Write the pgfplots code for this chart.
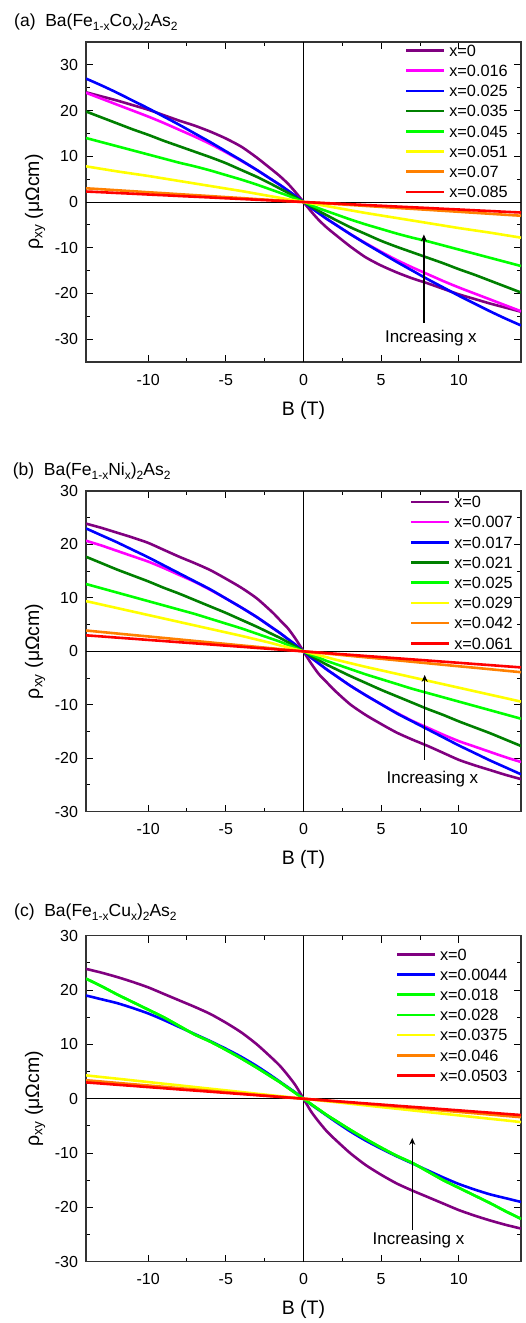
\documentclass[border=0pt]{standalone}
\usepackage{fontspec}
\setmainfont{Liberation Sans}
\usepackage{pgfplots}
\usepackage{pgfplotstable}
\pgfplotsset{compat=1.18}
\usetikzlibrary{arrows.meta}
\definecolor{cpurple}{RGB}{128,0,128}
\definecolor{cmag}{RGB}{255,0,255}
\definecolor{cblue}{RGB}{0,0,255}
\definecolor{cdgreen}{RGB}{0,128,0}
\definecolor{cgreen}{RGB}{0,255,0}
\definecolor{cyellow}{RGB}{255,255,0}
\definecolor{corange}{RGB}{255,128,0}
\definecolor{cred}{RGB}{255,0,0}
\newcommand{\sbs}[1]{\raisebox{-0.28em}{\fontsize{12}{12}\selectfont #1}}
\tikzset{cv/.style={line width=2.6pt, smooth, tension=0.4}}

\pgfplotstableread{
B c0 c016 c025 c035 c045 c051 c07 c085
-14 24.0 23.9 27.0 19.8 14.0 7.8 3.0 2.3
-13 23.1 22.6 25.5 18.5 13.1 7.25 2.79 2.14
-12 22.2 21.3 23.9 17.2 12.2 6.7 2.57 1.97
-11 21.2 20.0 22.2 15.9 11.3 6.2 2.36 1.81
-10 20.2 18.7 20.5 14.7 10.4 5.7 2.14 1.64
-9 19.0 17.3 18.7 13.4 9.5 5.15 1.93 1.48
-8 17.8 15.8 16.9 12.2 8.6 4.6 1.71 1.31
-7 16.7 14.3 15.0 11.0 7.8 4.05 1.5 1.15
-6 15.4 12.7 13.1 9.8 6.9 3.5 1.29 0.99
-5 13.9 10.9 11.1 8.5 5.9 2.95 1.07 0.82
-4 12.1 9.0 9.1 7.0 4.9 2.4 0.86 0.66
-3 9.7 7.0 7.0 5.5 3.8 1.8 0.64 0.49
-2 7.0 4.8 4.8 3.8 2.6 1.2 0.43 0.33
-1.5 5.6 3.7 3.7 2.9 2.0 0.9 0.32 0.25
-1 4.0 2.5 2.5 2.0 1.4 0.6 0.21 0.16
-0.5 2.1 1.3 1.3 1.0 0.7 0.3 0.11 0.08
0 0 0 0 0 0 0 0 0
0.5 -2.1 -1.3 -1.3 -1.0 -0.7 -0.3 -0.11 -0.08
1 -4.0 -2.5 -2.5 -2.0 -1.4 -0.6 -0.21 -0.16
1.5 -5.6 -3.7 -3.7 -2.9 -2.0 -0.9 -0.32 -0.25
2 -7.0 -4.8 -4.8 -3.8 -2.6 -1.2 -0.43 -0.33
3 -9.7 -7.0 -7.0 -5.5 -3.8 -1.8 -0.64 -0.49
4 -12.1 -9.0 -9.1 -7.0 -4.9 -2.4 -0.86 -0.66
5 -13.9 -10.9 -11.1 -8.5 -5.9 -2.95 -1.07 -0.82
6 -15.4 -12.7 -13.1 -9.8 -6.9 -3.5 -1.29 -0.99
7 -16.7 -14.3 -15.0 -11.0 -7.8 -4.05 -1.5 -1.15
8 -17.8 -15.8 -16.9 -12.2 -8.6 -4.6 -1.71 -1.31
9 -19.0 -17.3 -18.7 -13.4 -9.5 -5.15 -1.93 -1.48
10 -20.2 -18.7 -20.5 -14.7 -10.4 -5.7 -2.14 -1.64
11 -21.2 -20.0 -22.2 -15.9 -11.3 -6.2 -2.36 -1.81
12 -22.2 -21.3 -23.9 -17.2 -12.2 -6.7 -2.57 -1.97
13 -23.1 -22.6 -25.5 -18.5 -13.1 -7.25 -2.79 -2.14
14 -24.0 -23.9 -27.0 -19.8 -14.0 -7.8 -3.0 -2.3
}\tabA

\pgfplotstableread{
B n0 n007 n017 n021 n025 n029 n042 n061
-14 23.9 20.7 23.0 17.7 12.6 9.4 3.9 3.0
-13 23.1 19.8 21.7 16.5 11.8 8.75 3.62 2.79
-12 22.2 18.8 20.4 15.3 11.0 8.1 3.34 2.57
-11 21.3 17.8 19.0 14.2 10.2 7.45 3.06 2.36
-10 20.3 16.8 17.6 13.1 9.4 6.8 2.79 2.14
-9 19.0 15.6 16.1 11.9 8.6 6.15 2.51 1.93
-8 17.7 14.3 14.6 10.8 7.8 5.5 2.23 1.71
-7 16.5 13.0 13.1 9.6 7.0 4.85 1.95 1.5
-6 15.2 11.5 11.6 8.4 6.1 4.2 1.67 1.29
-5 13.6 9.9 9.9 7.2 5.2 3.55 1.39 1.07
-4 11.9 8.2 8.2 5.9 4.3 2.9 1.11 0.86
-3 9.9 6.4 6.4 4.6 3.3 2.2 0.84 0.64
-2 7.3 4.4 4.4 3.2 2.3 1.5 0.56 0.43
-1.5 5.8 3.4 3.4 2.5 1.8 1.1 0.42 0.32
-1 4.3 2.3 2.3 1.7 1.2 0.75 0.28 0.21
-0.5 2.3 1.2 1.2 0.9 0.6 0.37 0.14 0.11
0 0 0 0 0 0 0 0 0
0.5 -2.3 -1.2 -1.2 -0.9 -0.6 -0.37 -0.14 -0.11
1 -4.3 -2.3 -2.3 -1.7 -1.2 -0.75 -0.28 -0.21
1.5 -5.8 -3.4 -3.4 -2.5 -1.8 -1.1 -0.42 -0.32
2 -7.3 -4.4 -4.4 -3.2 -2.3 -1.5 -0.56 -0.43
3 -9.9 -6.4 -6.4 -4.6 -3.3 -2.2 -0.84 -0.64
4 -11.9 -8.2 -8.2 -5.9 -4.3 -2.9 -1.11 -0.86
5 -13.6 -9.9 -9.9 -7.2 -5.2 -3.55 -1.39 -1.07
6 -15.2 -11.5 -11.6 -8.4 -6.1 -4.2 -1.67 -1.29
7 -16.5 -13.0 -13.1 -9.6 -7.0 -4.85 -1.95 -1.5
8 -17.7 -14.3 -14.6 -10.8 -7.8 -5.5 -2.23 -1.71
9 -19.0 -15.6 -16.1 -11.9 -8.6 -6.15 -2.51 -1.93
10 -20.3 -16.8 -17.6 -13.1 -9.4 -6.8 -2.79 -2.14
11 -21.3 -17.8 -19.0 -14.2 -10.2 -7.45 -3.06 -2.36
12 -22.2 -18.8 -20.4 -15.3 -11.0 -8.1 -3.34 -2.57
13 -23.1 -19.8 -21.7 -16.5 -11.8 -8.75 -3.62 -2.79
14 -23.9 -20.7 -23.0 -17.7 -12.6 -9.4 -3.9 -3.0
}\tabB

\pgfplotstableread{
B u0 u0044 u018 u028 u0375 u046 u0503
-14 23.9 19.0 22.1 22.1 4.3 3.4 3.0
-13 23.2 18.3 20.7 20.7 3.99 3.16 2.79
-12 22.4 17.6 19.2 19.2 3.69 2.91 2.57
-11 21.5 16.7 17.8 17.8 3.38 2.67 2.36
-10 20.5 15.7 16.4 16.4 3.07 2.43 2.14
-9 19.3 14.5 15.0 15.0 2.76 2.19 1.93
-8 18.1 13.2 13.4 13.4 2.46 1.94 1.71
-7 16.9 11.9 11.8 11.8 2.15 1.70 1.5
-6 15.6 10.6 10.5 10.5 1.84 1.46 1.29
-5 14.0 9.2 9.0 9.0 1.54 1.21 1.07
-4 12.2 7.7 7.4 7.4 1.23 0.97 0.86
-3 10.0 6.0 5.7 5.7 0.92 0.73 0.64
-2 7.4 4.1 3.9 3.9 0.61 0.49 0.43
-1.5 6.0 3.1 3.0 3.0 0.46 0.36 0.32
-1 4.3 2.1 2.0 2.0 0.31 0.24 0.21
-0.5 2.4 1.1 1.0 1.0 0.15 0.12 0.11
0 0 0 0 0 0 0 0
0.5 -2.4 -1.1 -1.0 -1.0 -0.15 -0.12 -0.11
1 -4.3 -2.1 -2.0 -2.0 -0.31 -0.24 -0.21
1.5 -6.0 -3.1 -3.0 -3.0 -0.46 -0.36 -0.32
2 -7.4 -4.1 -3.9 -3.9 -0.61 -0.49 -0.43
3 -10.0 -6.0 -5.7 -5.7 -0.92 -0.73 -0.64
4 -12.2 -7.7 -7.4 -7.4 -1.23 -0.97 -0.86
5 -14.0 -9.2 -9.0 -9.0 -1.54 -1.21 -1.07
6 -15.6 -10.6 -10.5 -10.5 -1.84 -1.46 -1.29
7 -16.9 -11.9 -11.8 -11.8 -2.15 -1.70 -1.5
8 -18.1 -13.2 -13.4 -13.4 -2.46 -1.94 -1.71
9 -19.3 -14.5 -15.0 -15.0 -2.76 -2.19 -1.93
10 -20.5 -15.7 -16.4 -16.4 -3.07 -2.43 -2.14
11 -21.5 -16.7 -17.8 -17.8 -3.38 -2.67 -2.36
12 -22.4 -17.6 -19.2 -19.2 -3.69 -2.91 -2.57
13 -23.2 -18.3 -20.7 -20.7 -3.99 -3.16 -2.79
14 -23.9 -19.0 -22.1 -22.1 -4.3 -3.4 -3.0
}\tabC

\pgfplotsset{
 myax/.style={
  scale only axis, width=435pt,
  xmin=-14, xmax=14,
  xtick={-10,-5,0,5,10}, minor x tick num=1,
  minor y tick num=1,
  tick align=inside,
  major tick length=7pt, minor tick length=4pt,
  every tick/.style={black, line width=1pt},
  axis line style={line width=1.5pt, black!80},
  /pgf/number format/assume math mode=true,
  ticklabel style={font=\fontsize{16}{19}\selectfont},
  xticklabel style={yshift=-8.5pt},
  yticklabel style={xshift=-4.5pt},
  xlabel={B (T)},
  ylabel={ρ\textsubscript{xy} (μΩcm)},
  label style={font=\fontsize{19.5}{23}\selectfont},
  ylabel style={at={(axis description cs:-0.117,0.5)}, anchor=center},
  legend cell align=left,
  legend image code/.code={\draw[##1, line width=2.6pt] (0pt,1.8pt) -- (38pt,1.8pt);},
  legend style={draw=none, fill=none, inner sep=0pt, row sep=4.2pt, column sep=3.5pt, anchor=north west, font=\fontsize{16.3}{19}\selectfont, nodes={inner sep=0pt, text height=12pt, text depth=4pt}},
 }
}

\begin{document}
\begin{tikzpicture}
\useasboundingbox (0pt,0pt) rectangle (526pt,-1323pt);

\node[anchor=base west, font=\fontsize{17.5}{20}\selectfont, inner sep=0pt] at (14pt,-26pt) {(a)~~Ba(Fe\sbs{1-x}Co\sbs{x})\sbs{2}As\sbs{2}};
\node[anchor=base west, font=\fontsize{17.5}{20}\selectfont, inner sep=0pt] at (12.7pt,-475pt) {(b)~~Ba(Fe\sbs{1-x}Ni\sbs{x})\sbs{2}As\sbs{2}};
\node[anchor=base west, font=\fontsize{17.5}{20}\selectfont, inner sep=0pt] at (14pt,-916pt) {(c)~~Ba(Fe\sbs{1-x}Cu\sbs{x})\sbs{2}As\sbs{2}};

% (a)
\begin{axis}[myax, at={(86pt,-362pt)}, anchor=south west, height=320pt,
  ymin=-35, ymax=35, ytick={-30,-20,-10,0,10,20,30},
  xlabel style={at={(axis description cs:0.5,-0.15)}, anchor=center},
  legend style={at={(0.7333,0.9933)}}]
\draw[black, line width=1pt] (axis cs:-14,0) -- (axis cs:14,0);
\draw[black, line width=1.3pt] (axis cs:0,-35) -- (axis cs:0,35);
\addplot[cpurple, cv] table[x=B, y=c0] {\tabA};
\addlegendentry{x=0}
\addplot[cmag, cv] table[x=B, y=c016] {\tabA};
\addlegendentry{x=0.016}
\addplot[cblue, cv] table[x=B, y=c025] {\tabA};
\addlegendentry{x=0.025}
\addplot[cdgreen, cv] table[x=B, y=c035] {\tabA};
\addlegendentry{x=0.035}
\addplot[cgreen, cv] table[x=B, y=c045] {\tabA};
\addlegendentry{x=0.045}
\addplot[cyellow, cv] table[x=B, y=c051] {\tabA};
\addlegendentry{x=0.051}
\addplot[corange, cv] table[x=B, y=c07] {\tabA};
\addlegendentry{x=0.07}
\addplot[cred, cv] table[x=B, y=c085] {\tabA};
\addlegendentry{x=0.085}
\draw[-{Stealth[length=7pt,width=6pt]}, line width=1.3pt] (axis cs:7.75,-26.4) -- (axis cs:7.75,-7.1);
\node[font=\fontsize{17}{20}\selectfont] at (axis cs:8.2,-29.7) {Increasing x};
\end{axis}

% (b)
\begin{axis}[myax, at={(86pt,-811.7pt)}, anchor=south west, height=320.7pt,
  ymin=-30, ymax=30, ytick={-30,-20,-10,0,10,20,30},
  xlabel style={at={(axis description cs:0.5,-0.15)}, anchor=center},
  legend style={at={(0.7448,0.9858)}}]
\draw[black, line width=1pt] (axis cs:-14,0) -- (axis cs:14,0);
\draw[black, line width=1.3pt] (axis cs:0,-30) -- (axis cs:0,30);
\addplot[cpurple, cv] table[x=B, y=n0] {\tabB};
\addlegendentry{x=0}
\addplot[cmag, cv] table[x=B, y=n007] {\tabB};
\addlegendentry{x=0.007}
\addplot[cblue, cv] table[x=B, y=n017] {\tabB};
\addlegendentry{x=0.017}
\addplot[cdgreen, cv] table[x=B, y=n021] {\tabB};
\addlegendentry{x=0.021}
\addplot[cgreen, cv] table[x=B, y=n025] {\tabB};
\addlegendentry{x=0.025}
\addplot[cyellow, cv] table[x=B, y=n029] {\tabB};
\addlegendentry{x=0.029}
\addplot[corange, cv] table[x=B, y=n042] {\tabB};
\addlegendentry{x=0.042}
\addplot[cred, cv] table[x=B, y=n061] {\tabB};
\addlegendentry{x=0.061}
\draw[-{Stealth[length=7pt,width=6pt]}, line width=1.3pt] (axis cs:7.8,-20.3) -- (axis cs:7.8,-4.4);
\node[font=\fontsize{17}{20}\selectfont] at (axis cs:8.3,-23.9) {Increasing x};
\end{axis}

% (c)
\begin{axis}[myax, at={(86pt,-1261.7pt)}, anchor=south west, height=326pt,
  ymin=-30, ymax=30, ytick={-30,-20,-10,0,10,20,30},
  xlabel style={at={(axis description cs:0.5,-0.147)}, anchor=center},
  legend style={at={(0.712,0.9627)}}]
\draw[black, line width=1pt] (axis cs:-14,0) -- (axis cs:14,0);
\draw[black, line width=1.3pt] (axis cs:0,-30) -- (axis cs:0,30);
\addplot[cpurple, cv] table[x=B, y=u0] {\tabC};
\addlegendentry{x=0}
\addplot[cblue, cv] table[x=B, y=u0044] {\tabC};
\addlegendentry{x=0.0044}
\addplot[cgreen, cv] table[x=B, y=u018] {\tabC};
\addlegendentry{x=0.018}
\addplot[cgreen, cv] table[x=B, y=u028] {\tabC};
\addlegendentry{x=0.028}
\addplot[cyellow, cv] table[x=B, y=u0375] {\tabC};
\addlegendentry{x=0.0375}
\addplot[corange, cv] table[x=B, y=u046] {\tabC};
\addlegendentry{x=0.046}
\addplot[cred, cv] table[x=B, y=u0503] {\tabC};
\addlegendentry{x=0.0503}
\draw[-{Stealth[length=7pt,width=6pt]}, line width=1.3pt] (axis cs:7.0,-24.2) -- (axis cs:7.0,-7.2);
\node[font=\fontsize{17}{20}\selectfont] at (axis cs:7.4,-26.1) {Increasing x};
\end{axis}
\end{tikzpicture}
\end{document}
